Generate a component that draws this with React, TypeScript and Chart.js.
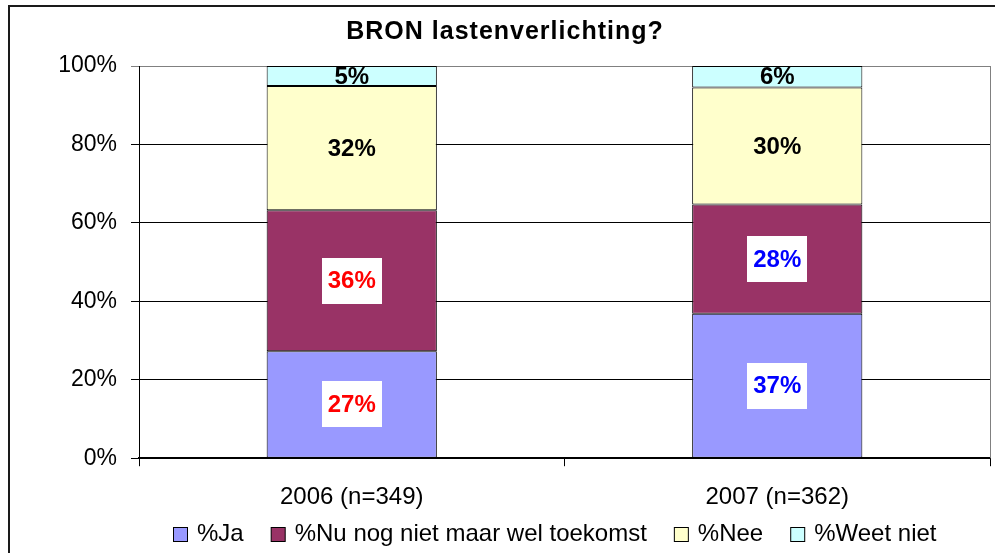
import React, { useEffect, useRef } from "react";
import { Chart, registerables } from "chart.js";

Chart.register(...registerables);

const TITLE = "BRON lastenverlichting?";
const categories = ["2006 (n=349)", "2007 (n=362)"];
const seriesNames = ["%Ja", "%Nu nog niet maar wel toekomst", "%Nee", "%Weet niet"];
const jaValues = [27.3, 36.8];
const nuValues = [35.9, 27.9];
const neeValues = [31.7, 29.8];
const weetValues = [5.1, 5.5];
const dataLabels = [
  ["27%", "37%"],
  ["36%", "28%"],
  ["32%", "30%"],
  ["5%", "6%"],
];
const yTicks = [0, 20, 40, 60, 80, 100];

const seriesColors = ["#9999FF", "#993366", "#FFFFCC", "#CCFFFF"];
const labelColors = [
  ["#FF0000", "#0000FF"],
  ["#FF0000", "#0000FF"],
  ["#000000", "#000000"],
  ["#000000", "#000000"],
];
const labelBoxed = [true, true, false, false];
const FONT = "'Liberation Sans', Arial, Helvetica, sans-serif";

const framePlugin = {
  id: "frame",
  beforeDraw(chart: any) {
    const { ctx, width, height } = chart;
    ctx.save();
    ctx.fillStyle = "#ffffff";
    ctx.fillRect(0, 0, width, height);
    ctx.restore();
  },
  afterDraw(chart: any) {
    const { ctx, width, height, chartArea } = chart;
    ctx.save();
    // outer frame (left and top visible)
    ctx.strokeStyle = "#1a1a1a";
    ctx.lineWidth = 2;
    ctx.beginPath();
    ctx.moveTo(9, height + 5);
    ctx.lineTo(9, 6);
    ctx.lineTo(width + 5, 6);
    ctx.stroke();
    // plot area right border
    ctx.strokeStyle = "#808080";
    ctx.lineWidth = 1;
    ctx.beginPath();
    const rx = Math.round(chartArea.right) + 0.5;
    ctx.moveTo(rx, chartArea.top);
    ctx.lineTo(rx, chartArea.bottom);
    ctx.stroke();

    // title
    ctx.fillStyle = "#000000";
    ctx.font = `bold 25px ${FONT}`;
    ctx.textBaseline = "alphabetic";
    ctx.textAlign = "center";
    try {
      (ctx as any).letterSpacing = "1px";
    } catch (e) {}
    ctx.fillText(TITLE, 505, 39);
    try {
      (ctx as any).letterSpacing = "0px";
    } catch (e) {}

    // legend
    ctx.font = `24px ${FONT}`;
    ctx.textBaseline = "middle";
    ctx.textAlign = "left";
    const cy = height - 19;
    let x = 173;
    seriesNames.forEach((name, i) => {
      ctx.fillStyle = seriesColors[i];
      ctx.fillRect(x + 0.5, cy - 7 + 0.5, 14, 14);
      ctx.strokeStyle = "#000000";
      ctx.lineWidth = 1;
      ctx.strokeRect(x + 0.5, cy - 7 + 0.5, 14, 14);
      ctx.fillStyle = "#000000";
      ctx.fillText(name, x + 24, cy);
      x += 24 + ctx.measureText(name).width + 27;
    });
    ctx.restore();
  },
};

const labelPlugin = {
  id: "barLabels",
  afterDatasetsDraw(chart: any) {
    const { ctx } = chart;
    ctx.save();
    ctx.font = `bold 24px ${FONT}`;
    ctx.textAlign = "center";
    ctx.textBaseline = "middle";
    chart.data.datasets.forEach((ds: any, di: number) => {
      const meta = chart.getDatasetMeta(di);
      meta.data.forEach((bar: any, i: number) => {
        const cx = bar.x;
        const cy = (bar.y + bar.base) / 2;
        if (labelBoxed[di]) {
          ctx.fillStyle = "#ffffff";
          ctx.fillRect(Math.round(cx - 30), Math.round(cy - 23), 60, 46);
        }
        ctx.fillStyle = labelColors[di][i];
        ctx.fillText(dataLabels[di][i], cx, cy + 1);
      });
    });
    ctx.restore();
  },
};

export default function App() {
  const ref = useRef<HTMLCanvasElement>(null);
  useEffect(() => {
    if (!ref.current) return;
    const values = [jaValues, nuValues, neeValues, weetValues];
    const chart = new Chart(ref.current, {
      type: "bar",
      data: {
        labels: categories,
        datasets: seriesNames.map((name, i) => ({
          label: name,
          data: values[i],
          backgroundColor: seriesColors[i],
          borderColor: "#000000",
          borderWidth: 1,
          borderSkipped: false,
          categoryPercentage: 1,
          barPercentage: 0.4,
        })),
      },
      options: {
        responsive: true,
        maintainAspectRatio: false,
        animation: false,
        layout: { padding: { left: 20, right: 5, top: 66, bottom: 24 } },
        plugins: {
          legend: { display: false },
          tooltip: { enabled: false },
          title: { display: false },
        },
        scales: {
          x: {
            stacked: true,
            grid: {
              display: true,
              offset: true,
              drawOnChartArea: false,
              drawTicks: true,
              tickLength: 8,
              color: "#000000",
            },
            border: { display: true, color: "#000000", width: 2 },
            ticks: {
              color: "#000000",
              font: { family: FONT, size: 24 },
              padding: 17,
              maxRotation: 0,
            },
          },
          y: {
            stacked: true,
            min: 0,
            max: 100,
            afterFit: (scale: any) => {
              scale.width = 119;
            },
            afterBuildTicks: (scale: any) => {
              scale.ticks = yTicks.map((v) => ({ value: v }));
            },
            grid: {
              color: (c: any) => (c.tick && c.tick.value === 100 ? "#808080" : "#000000"),
              lineWidth: 1,
              tickLength: 8,
              drawTicks: true,
            },
            border: { display: true, color: "#000000", width: 1 },
            ticks: {
              stepSize: 20,
              color: "#000000",
              font: { family: FONT, size: 23 },
              padding: 14,
              callback: (v: any) => `${v}%`,
            },
          },
        },
      },
      plugins: [framePlugin, labelPlugin],
    });
    return () => chart.destroy();
  }, []);
  return (
    <div style={{ position: "absolute", left: 0, top: 0, width: 995, height: 553 }}>
      <canvas ref={ref} />
    </div>
  );
}
